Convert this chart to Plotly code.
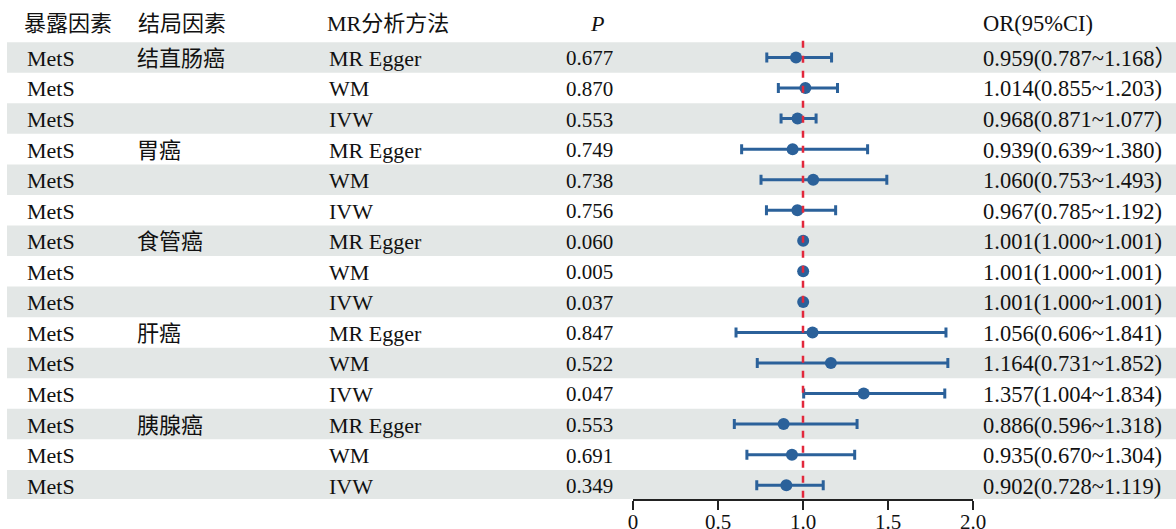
import plotly.graph_objects as go

# ---- data ----
exposure = ["MetS"] * 15
outcome = ["结直肠癌", "", "", "胃癌", "", "", "食管癌", "", "", "肝癌", "", "", "胰腺癌", "", ""]
method = ["MR Egger", "WM", "IVW"] * 5
p_values = ["0.677", "0.870", "0.553", "0.749", "0.738", "0.756", "0.060", "0.005", "0.037",
            "0.847", "0.522", "0.047", "0.553", "0.691", "0.349"]
or_est = [0.959, 1.014, 0.968, 0.939, 1.060, 0.967, 1.001, 1.001, 1.001,
          1.056, 1.164, 1.357, 0.886, 0.935, 0.902]
ci_low = [0.787, 0.855, 0.871, 0.639, 0.753, 0.785, 1.000, 1.000, 1.000,
          0.606, 0.731, 1.004, 0.596, 0.670, 0.728]
ci_high = [1.168, 1.203, 1.077, 1.380, 1.493, 1.192, 1.001, 1.001, 1.001,
           1.841, 1.852, 1.834, 1.318, 1.304, 1.119]
or_text = ["0.959(0.787~1.168）", "1.014(0.855~1.203)", "0.968(0.871~1.077)",
           "0.939(0.639~1.380)", "1.060(0.753~1.493)", "0.967(0.785~1.192)",
           "1.001(1.000~1.001)", "1.001(1.000~1.001)", "1.001(1.000~1.001)",
           "1.056(0.606~1.841)", "1.164(0.731~1.852)", "1.357(1.004~1.834)",
           "0.886(0.596~1.318)", "0.935(0.670~1.304)", "0.902(0.728~1.119)"]
headers = ["暴露因素", "结局因素", "MR分析方法", "<i>P</i>", "OR(95%CI)"]
tick_vals = [0, 0.5, 1.0, 1.5, 2.0]
tick_text = ["0", "0.5", "1.0", "1.5", "2.0"]

W, H = 1176, 529
FONT = "Liberation Serif, Noto Sans CJK SC, serif"
BLUE = "#2b619a"
RED = "#e2283c"
SHADE = "#e3e7e6"
INK = "#111"

rows = list(range(1, len(or_est) + 1))

fig = go.Figure()
fig.add_trace(go.Scatter(
    x=or_est, y=rows, mode="markers",
    marker=dict(size=12, color=BLUE),
    error_x=dict(type="data", symmetric=False,
                 array=[h - o for h, o in zip(ci_high, or_est)],
                 arrayminus=[o - l for o, l in zip(or_est, ci_low)],
                 color=BLUE, thickness=3, width=5),
    showlegend=False, hoverinfo="skip", cliponaxis=False,
))

shapes = []
for r in rows:
    if r % 2 == 1:
        shapes.append(dict(type="rect", xref="paper", yref="y", x0=7 / W, x1=1,
                           y0=r - 0.5, y1=r + 0.5, fillcolor=SHADE, line_width=0, layer="below"))
shapes.append(dict(type="line", xref="x", yref="y", x0=1, x1=1, y0=0.45, y1=15.45,
                   line=dict(color=RED, width=2.5, dash="7px,8px"), layer="above"))

ann = []


def add_text(px, y, txt, anc, size):
    ann.append(dict(x=px / W, y=y, xref="paper", yref="y", text=txt, showarrow=False,
                    xanchor=anc, yanchor="middle", font=dict(family=FONT, size=size, color=INK)))


hdr_y = -0.12
hdr_spec = [(22, "left", 22), (136, "left", 22), (325, "left", 22), (597, "center", 22), (981, "left", 22.5)]
for txt, (px, anc, sz) in zip(headers, hdr_spec):
    add_text(px, hdr_y, txt, anc, sz)

for i, r in enumerate(rows):
    y = r + 0.03
    add_text(25, y, exposure[i], "left", 22)
    if outcome[i]:
        add_text(135, y, outcome[i], "left", 22)
    add_text(327, y, method[i], "left", 22)
    add_text(589, y, p_values[i], "center", 21)
    add_text(981, y, or_text[i], "left", 22.5)

fig.update_layout(
    width=W, height=H, margin=dict(l=0, r=0, t=0, b=0),
    paper_bgcolor="white", plot_bgcolor="rgba(0,0,0,0)",
    shapes=shapes, annotations=ann,
    xaxis=dict(domain=[633 / W, 973 / W], range=[0, 2], tickvals=tick_vals, ticktext=tick_text,
               ticks="outside", ticklen=9, tickwidth=2, tickcolor="#222",
               showline=True, linecolor="#222", linewidth=2, showgrid=False, zeroline=False,
               ticklabelstandoff=-6,
               tickfont=dict(family=FONT, size=21, color=INK), automargin=False, fixedrange=True),
    yaxis=dict(domain=[30 / H, 1], range=[15.452, -0.882], showticklabels=False, ticks="",
               showgrid=False, zeroline=False, showline=False, automargin=False, fixedrange=True),
)

fig.write_html("out.html")
